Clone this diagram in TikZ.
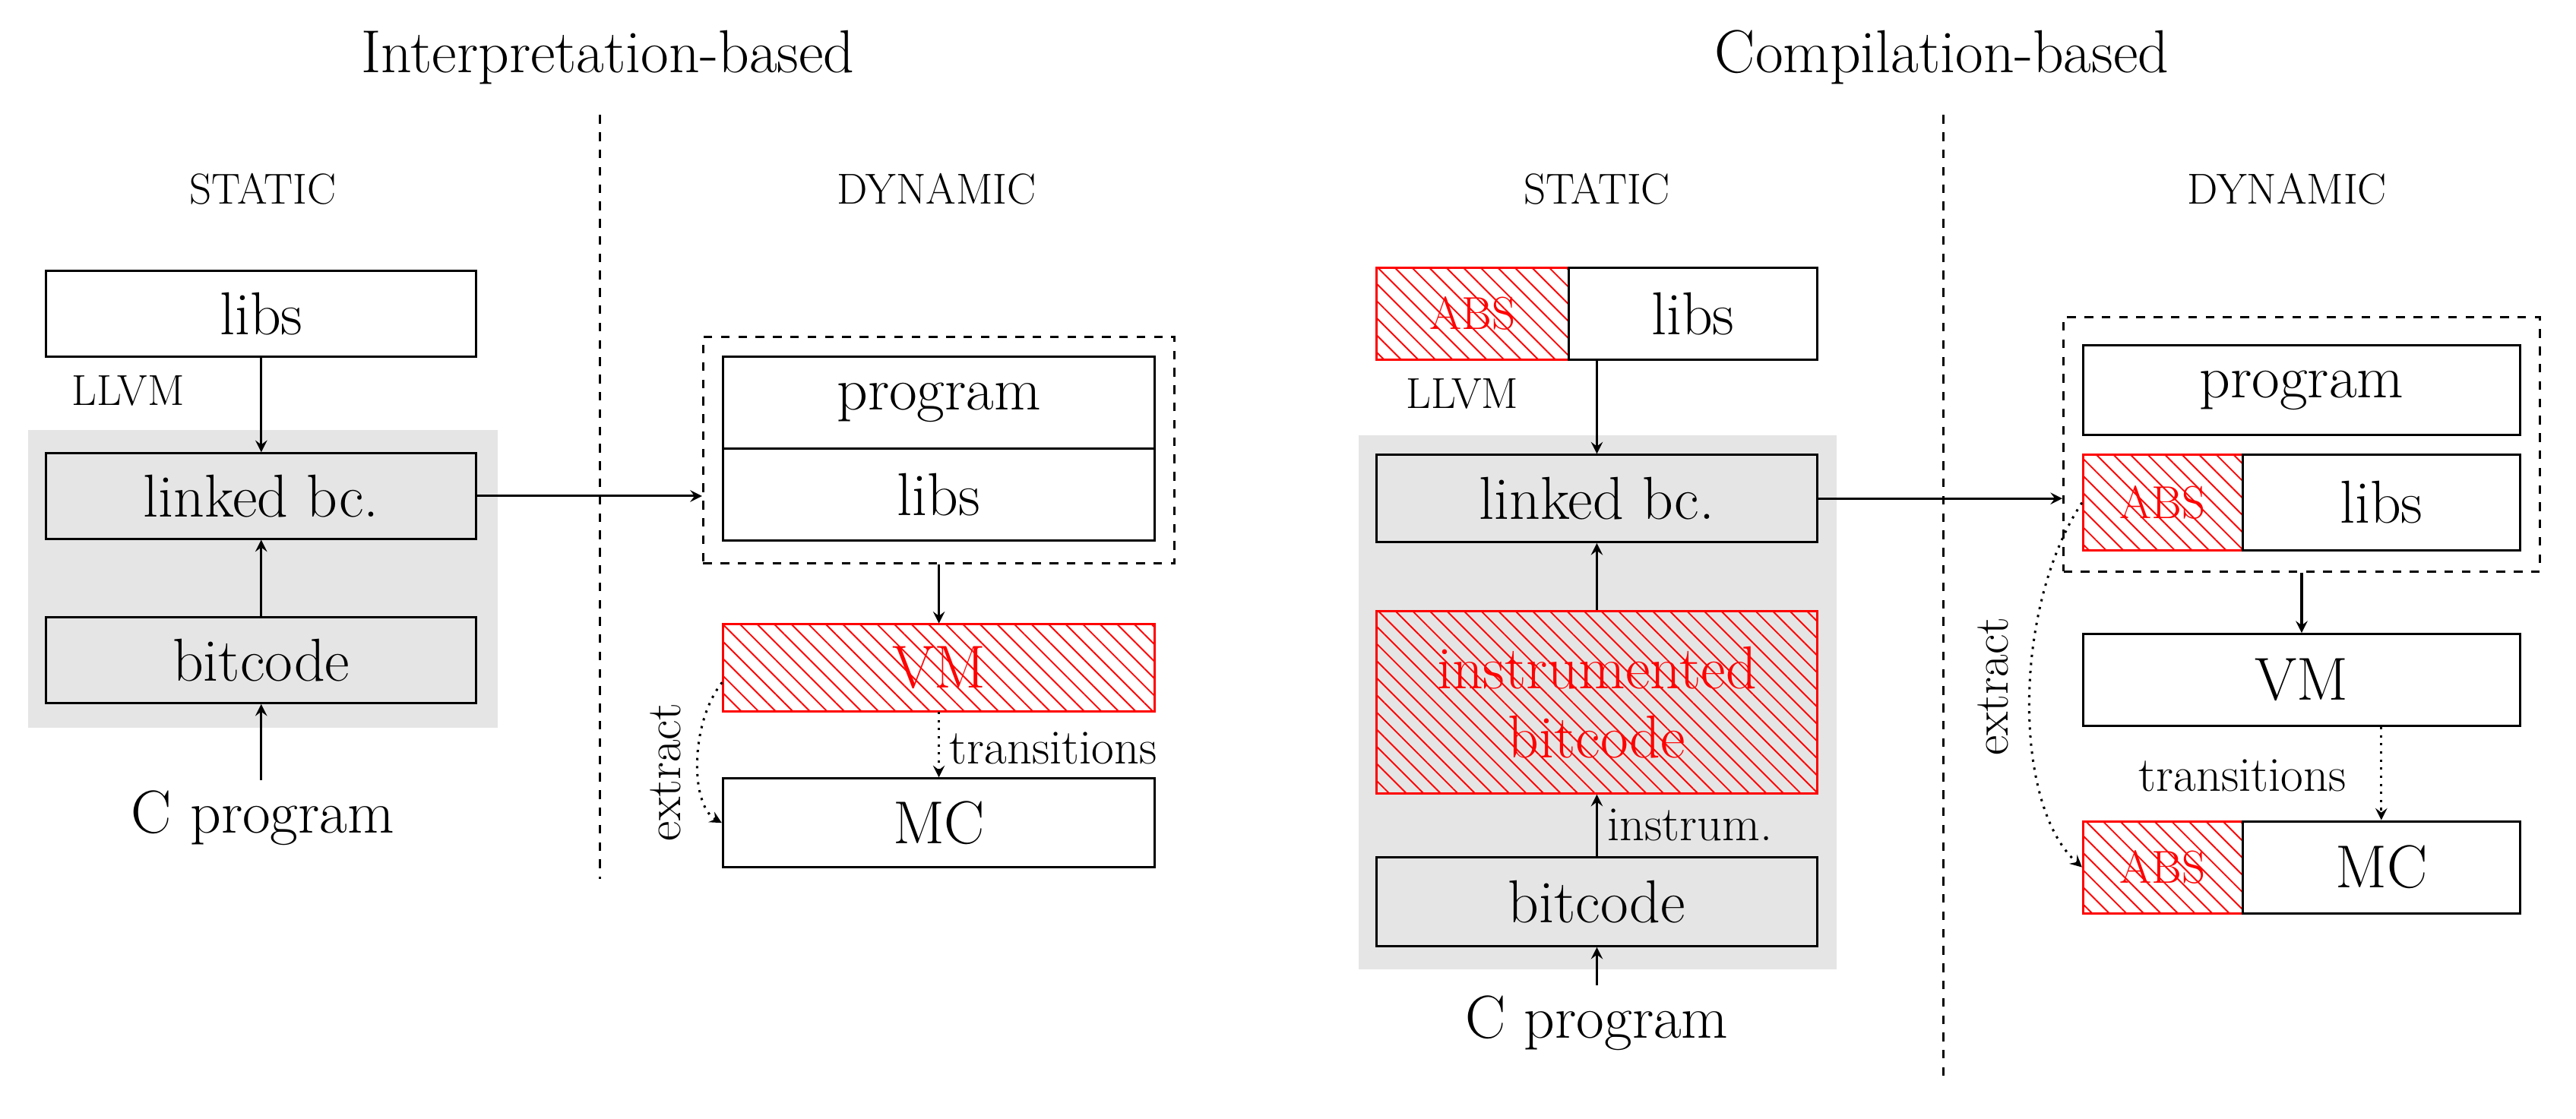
\documentclass[tikz,border=0pt]{standalone}
\usetikzlibrary{patterns.meta,backgrounds}
\begin{document}
\begin{tikzpicture}[x=0.02cm,y=-0.02cm,>=stealth,line width=0.8pt,
  box/.style={draw,inner sep=0pt,font=\fontsize{21}{24}\selectfont},
  hatch/.style={draw=red,text=red,pattern={Lines[angle=-45,distance=4.2pt,line width=0.5pt]},pattern color=red},
  bg/.style={fill=black!10,draw=none},
  title/.style={font=\fontsize{21}{24}\selectfont},
  sc/.style={font=\fontsize{15}{18}\selectfont},
  abs/.style={font=\fontsize{16}{19}\selectfont},
  lbl/.style={font=\fontsize{17}{20}\selectfont}]
\useasboundingbox (0,0) rectangle (1568,681);
% titles and separators
\node[title] (t1) at (370,35) {Interpretation-based};
\node[title] (t2) at (1182,35) {Compilation-based};
\draw[dashed] (365,70) -- (365,535);
\draw[dashed] (1183,70) -- (1183,655);
\node[sc] at (160,115) {STATIC};
\node[sc] at (570,115) {DYNAMIC};
\node[sc] at (972,115) {STATIC};
\node[sc] at (1392,115) {DYNAMIC};

% ---- interpretation-based, static
\fill[bg] (17,262) rectangle (303,443);
\node[box,minimum width=5.24cm,minimum height=1.04cm] (llibs) at (159,191) {libs};
\node[box,fill=black!10,minimum width=5.24cm,minimum height=1.04cm] (llinked) at (159,302) {linked bc.};
\node[box,fill=black!10,minimum width=5.24cm,minimum height=1.04cm] (lbit) at (159,402) {bitcode};
\node[font=\fontsize{21}{24}\selectfont] (lc) at (160,498) {C program};
\node[sc] at (78,238) {LLVM};
\draw[->] (llibs) -- (llinked);
\draw[->] (lbit) -- (llinked);
\draw[->] (lc.north -| lbit) -- (lbit);

% ---- interpretation-based, dynamic
\node[draw,dashed,minimum width=5.74cm,minimum height=2.76cm,inner sep=0pt] (ldyn) at (571.5,274) {};
\node[box,minimum width=5.26cm,minimum height=1.12cm] (lprog) at (571.5,245) {program};
\node[box,minimum width=5.26cm,minimum height=1.12cm] (ldlibs) at (571.5,301) {libs};
\node[box,hatch,minimum width=5.26cm,minimum height=1.06cm] (lvm) at (571.5,406.5) {VM};
\node[box,minimum width=5.26cm,minimum height=1.08cm] (lmc) at (571.5,501) {MC};
\draw[->] (llinked.east) -- (ldyn.west |- llinked.east);
\draw[->] (ldyn.south -| lvm) -- (lvm);
\draw[->,dotted] (lvm) -- node[lbl,right,pos=0.55] {transitions} (lmc);
\draw[->,dotted] (lvm.south west) ++(0,-18) coordinate (le1)
  .. controls (420,440) and (420,490) .. (lmc.west);
\node[lbl,rotate=90] at (405,470) {extract};

% ---- compilation-based, static
\fill[bg] (827,265) rectangle (1118,590);
\node[box,hatch,minimum width=2.34cm,minimum height=1.12cm,abs] (rabs) at (896.5,191) {ABS};
\node[box,minimum width=3.02cm,minimum height=1.12cm] (rlibs) at (1030.5,191) {libs};
\node[sc] at (890,240) {LLVM};
\node[box,fill=black!10,minimum width=5.36cm,minimum height=1.06cm] (rlinked) at (972,303.5) {linked bc.};
\node[box,hatch,minimum width=5.36cm,minimum height=2.22cm,align=center,font=\fontsize{21}{24}\selectfont] (rins) at (972,427.5) {instrumented\\bitcode};
\node[box,fill=black!10,minimum width=5.36cm,minimum height=1.08cm] (rbit) at (972,549) {bitcode};
\node[font=\fontsize{21}{24}\selectfont] (rc) at (972,623) {C program};
\draw[->] (rlibs.south -| rlinked) -- (rlinked);
\draw[->] (rins) -- (rlinked);
\draw[->] (rbit) -- node[lbl,right] {instrum.} (rins);
\draw[->] (rc) -- (rbit);

% ---- compilation-based, dynamic
\node[draw,dashed,minimum width=5.8cm,minimum height=3.1cm,inner sep=0pt] (rdyn) at (1401,270.5) {};
\node[box,minimum width=5.32cm,minimum height=1.1cm] (rprog) at (1401,237.5) {program};
\node[box,hatch,minimum width=1.94cm,minimum height=1.16cm,abs] (rdabs) at (1316.5,306) {ABS};
\node[box,minimum width=3.38cm,minimum height=1.16cm] (rdlibs) at (1449.5,306) {libs};
\node[box,minimum width=5.32cm,minimum height=1.12cm] (rvm) at (1401,414) {VM};
\node[box,hatch,minimum width=1.94cm,minimum height=1.12cm,abs] (rmabs) at (1316.5,528) {ABS};
\node[box,minimum width=3.38cm,minimum height=1.12cm] (rmc) at (1449.5,528) {MC};
\draw[->] (rlinked.east) -- (rdyn.west |- rlinked.east);
\draw[->] (rdyn.south -| rvm) -- (rvm);
\draw[->,dotted] (rvm.south -| rmc.north) -- (rmc.north);
\node[lbl] at (1365,472) {transitions};
\draw[->,dotted] (rdabs.west) .. controls (1225,370) and (1225,490) .. (rmabs.west);
\node[lbl,rotate=90] at (1213,418) {extract};
\end{tikzpicture}
\end{document}
